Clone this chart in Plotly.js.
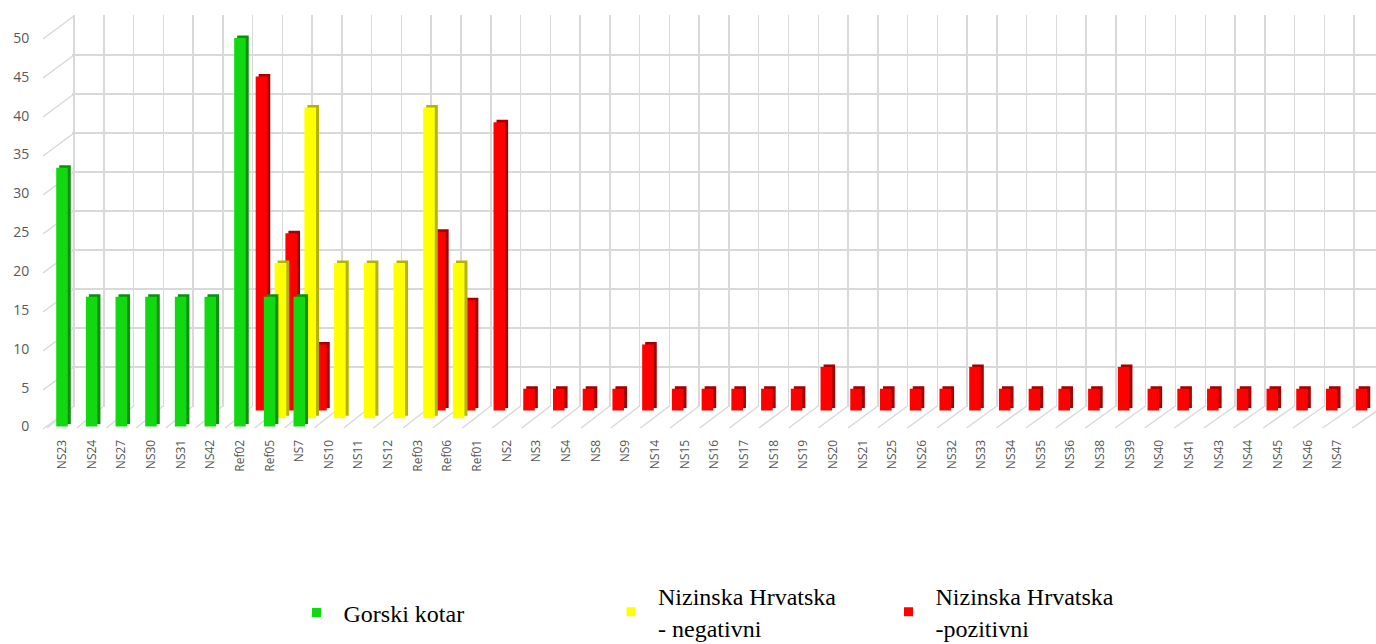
<!DOCTYPE html>
<html>
<head>
<meta charset="utf-8">
<script src="https://cdn.plot.ly/plotly-3.0.1.min.js"></script>
<style>
  html, body { margin: 0; padding: 0; background: #ffffff; }
  #chart { width: 1376px; height: 644px; }
</style>
</head>
<body>
<div id="chart"></div>
<script>
// ---------------- data ----------------
const categories = [
  "NS23","NS24","NS27","NS30","NS31","NS42","Ref02","Ref05","NS7","NS10","NS11","NS12",
  "Ref03","Ref06","Ref01","NS2","NS3","NS4","NS8","NS9","NS14","NS15","NS16","NS17",
  "NS18","NS19","NS20","NS21","NS25","NS26","NS32","NS33","NS34","NS35","NS36","NS38",
  "NS39","NS40","NS41","NS43","NS44","NS45","NS46","NS47"
];
const gorskiKotar = [
  33.3,16.7,16.7,16.7,16.7,16.7,50,16.7,16.7,null,null,null,
  null,null,null,null,null,null,null,null,null,null,null,null,
  null,null,null,null,null,null,null,null,null,null,null,null,
  null,null,null,null,null,null,null,null
];
const nizinskaNegativni = [
  null,null,null,null,null,null,null,20,40,20,20,20,
  40,20,null,null,null,null,null,null,null,null,null,null,
  null,null,null,null,null,null,null,null,null,null,null,null,
  null,null,null,null,null,null,null,null
];
const nizinskaPozitivni = [
  null,null,null,null,null,null,43.0,22.8,8.5,null,null,null,
  23.0,14.2,37.1,2.8,2.8,2.8,2.8,8.5,2.8,2.8,2.8,2.8,
  2.8,5.6,2.8,2.8,2.8,2.8,5.6,2.8,2.8,2.8,2.8,5.6,
  2.8,2.8,2.8,2.8,2.8,2.8,2.8,2.8
];
const seriesNames = ["Gorski kotar", "Nizinska Hrvatska<br>- negativni", "Nizinska Hrvatska<br>-pozitivni"];
const yTicks = [0,5,10,15,20,25,30,35,40,45,50];

// ---------------- geometry (pixels) ----------------
const W = 1376, H = 644;
function xAx(pxL, pxR, px0, ppu, extra) {
  return Object.assign({domain:[pxL/W, Math.min(1, pxR/W)], range:[(pxL-px0)/ppu, (pxR-px0)/ppu],
    showgrid:false, zeroline:false, showline:false, showticklabels:false, ticks:'', fixedrange:true}, extra||{});
}
function yAx(pyT, pyB, py0, ppu, extra) {
  return Object.assign({domain:[1-pyB/H, 1-pyT/H], range:[(py0-pyB)/ppu, (py0-pyT)/ppu],
    showgrid:false, zeroline:false, showline:false, showticklabels:false, ticks:'', fixedrange:true}, extra||{});
}
const PXL = 45, PXR = 1376, PYT = 8, PYB = 430;
const YPPU = 7.77;
const GRID = '#d9d9d9';

// rows: [px0, xppu, py0]
const rowGreen  = [62,   29.66, 426.5];
const rowYellow = [72.6, 29.70, 418.3];
const rowRed    = [83.1, 29.73, 410.5];
const SIDE_DX = 3, SIDE_DY = 2.5;

const catAx = {type:'category', categoryorder:'array', categoryarray:categories};
const legendFont = {family:'Liberation Serif, serif', size:24, color:'#000'};

const layout = {
  width: W, height: H,
  margin: {l:0, r:0, t:0, b:0, autoexpand:false},
  paper_bgcolor: '#ffffff', plot_bgcolor: 'rgba(0,0,0,0)',
  showlegend: true, hovermode: false,
  barmode: 'overlay',
  // back wall grid
  xaxis: xAx(72, 1376, 74 + 29.77*0.5, 29.77, {anchor:'y', showgrid:true, gridcolor:GRID, gridwidth:1.5,
    tickmode:'array', tickvals: categories.map((c,i)=>i-0.5).concat([categories.length-0.5])}),
  yaxis: yAx(15, 407, 406, 7.8, {anchor:'x', showgrid:true, gridcolor:GRID, gridwidth:1.5,
    tickmode:'array', tickvals: yTicks}),
  // red side / front
  xaxis2: xAx(PXL, PXR, rowRed[0]+SIDE_DX, rowRed[1], Object.assign({anchor:'y2'}, catAx)),
  yaxis2: yAx(PYT, PYB, rowRed[2]-SIDE_DY, YPPU, {anchor:'x2'}),
  xaxis3: xAx(PXL, PXR, rowRed[0], rowRed[1], Object.assign({anchor:'y3'}, catAx)),
  yaxis3: yAx(PYT, PYB, rowRed[2], YPPU, {anchor:'x3'}),
  // yellow side / front
  xaxis4: xAx(PXL, PXR, rowYellow[0]+SIDE_DX, rowYellow[1], Object.assign({anchor:'y4'}, catAx)),
  yaxis4: yAx(PYT, PYB, rowYellow[2]-SIDE_DY, YPPU, {anchor:'x4'}),
  xaxis5: xAx(PXL, PXR, rowYellow[0], rowYellow[1], Object.assign({anchor:'y5'}, catAx)),
  yaxis5: yAx(PYT, PYB, rowYellow[2], YPPU, {anchor:'x5'}),
  // green side / front (front carries the tick labels)
  xaxis6: xAx(PXL, PXR, rowGreen[0]+SIDE_DX, rowGreen[1], Object.assign({anchor:'y6'}, catAx)),
  yaxis6: yAx(PYT, PYB, rowGreen[2]-SIDE_DY, YPPU, {anchor:'x6'}),
  xaxis7: xAx(PXL, PXR, rowGreen[0], rowGreen[1], Object.assign({anchor:'y7', showticklabels:true,
    tickangle:-90, ticks:'outside', ticklen:4, tickcolor:'rgba(0,0,0,0)',
    tickfont:{family:'Open Sans, sans-serif', size:12, color:'#555555'}}, catAx)),
  yaxis7: yAx(PYT, PYB, rowGreen[2], YPPU, {anchor:'x7', showticklabels:true,
    tickmode:'array', tickvals:yTicks, ticks:'outside', ticklen:12, tickcolor:'rgba(0,0,0,0)',
    tickfont:{family:'Open Sans, sans-serif', size:14, color:'#595959'}}),
  shapes: [],
  legend:  {x:(316.5-27)/W, xanchor:'left', y:1-613/H, yanchor:'middle', orientation:'h', itemwidth:44,
            font:legendFont, bgcolor:'rgba(0,0,0,0)'},
  legend2: {x:(631-27)/W, xanchor:'left', y:1-612/H, yanchor:'middle', orientation:'h', itemwidth:44,
            font:legendFont, bgcolor:'rgba(0,0,0,0)'},
  legend3: {x:(908.5-27)/W, xanchor:'left', y:1-612/H, yanchor:'middle', orientation:'h', itemwidth:44,
            font:legendFont, bgcolor:'rgba(0,0,0,0)'}
};

// left wall diagonals (one per y tick) and floor diagonals (one per category boundary)
const lineStyle = {color:GRID, width:1.5};
yTicks.forEach(v => {
  layout.shapes.push({type:'line', xref:'paper', yref:'paper', layer:'below',
    x0:43/W, y0:1-(429-7.8*v)/H, x1:74/W, y1:1-(406-7.8*v)/H, line:lineStyle});
});
for (let k = 0; k <= categories.length; k++) {
  const fx = 47.2 + 29.66*k, bx = 74 + 29.77*k;
  layout.shapes.push({type:'line', xref:'paper', yref:'paper', layer:'below',
    x0:fx/W, y0:1-428/H, x1:bx/W, y1:1-406/H, line:lineStyle});
}

const BW = 0.39;
function bar(vals, color, xa, ya) {
  return {type:'bar', x:categories, y:vals, xaxis:xa, yaxis:ya, width:BW,
    marker:{color:color, line:{width:0}}, showlegend:false, hoverinfo:'skip'};
}
const traces = [
  bar(nizinskaPozitivni, '#a50000', 'x2', 'y2'),
  bar(nizinskaPozitivni, '#ff0000', 'x3', 'y3'),
  bar(nizinskaNegativni, '#b3b300', 'x4', 'y4'),
  bar(nizinskaNegativni, '#ffff00', 'x5', 'y5'),
  bar(gorskiKotar, '#0a900a', 'x6', 'y6'),
  bar(gorskiKotar, '#12d812', 'x7', 'y7'),
  // legend entries
  {type:'scatter', mode:'markers', x:[null], y:[null], name:seriesNames[0], legend:'legend',
   marker:{symbol:'square', size:9, color:'#12d812'}, showlegend:true},
  {type:'scatter', mode:'markers', x:[null], y:[null], name:seriesNames[1], legend:'legend2',
   marker:{symbol:'square', size:9, color:'#ffff00'}, showlegend:true},
  {type:'scatter', mode:'markers', x:[null], y:[null], name:seriesNames[2], legend:'legend3',
   marker:{symbol:'square', size:9, color:'#ff0000'}, showlegend:true}
];

Plotly.newPlot('chart', traces, layout, {staticPlot:true, displayModeBar:false});
</script>
</body>
</html>
